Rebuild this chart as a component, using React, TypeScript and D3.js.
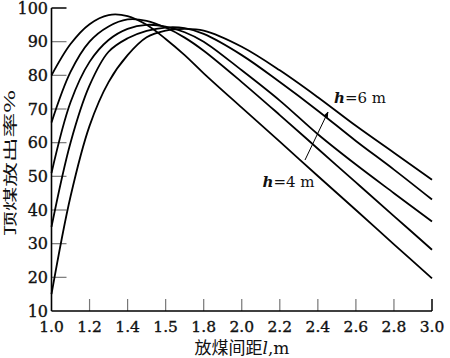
import React from "react";
import * as d3 from "d3";

const xValues = [1.0, 1.1, 1.2, 1.3, 1.4, 1.5, 1.6, 1.7, 1.8, 2.0, 2.2, 2.4, 2.6, 2.8, 3.0];
const seriesH4 = [80, 89.3, 95.2, 97.9, 97.6, 95.0, 90.8, 86.0, 80.6, 70.4, 60.3, 50.1, 40.0, 29.8, 19.7];
const seriesH45 = [66, 81, 90, 94.5, 96.6, 96.2, 94.2, 91.2, 87.3, 78, 68.2, 58.2, 48.2, 38.2, 28.2];
const seriesH5 = [51, 72, 84, 90.5, 93.8, 95.0, 94.5, 92.8, 90, 81.5, 72.5, 62.5, 53.5, 45, 36.6];
const seriesH55 = [35, 60, 77, 87, 91, 93.2, 94.2, 94, 92.3, 86, 78, 69.5, 60.5, 52, 43.1];
const seriesH6 = [15, 44, 65, 78, 86, 91.3, 93.3, 93.8, 93.3, 88.5, 81.5, 73.5, 65, 57, 49];
const allSeries = [seriesH4, seriesH45, seriesH5, seriesH55, seriesH6];

const xTickValues = [1.0, 1.2, 1.4, 1.6, 1.8, 2.0, 2.2, 2.4, 2.6, 2.8, 3.0];
const xTickLabels = ["1.0", "1.2", "1.4", "1.5", "1.8", "2.0", "2.2", "2.4", "2.6", "2.8", "3.0"];
const yTickValues = [10, 20, 30, 40, 50, 60, 70, 80, 90, 100];

const yTitle = "顶煤放出率%";
const xTitleMain = "放煤间距";
const labelTop = "=6 m";
const labelBottom = "=4 m";

export default function App() {
  const W = 450, H = 358;
  const x = d3.scaleLinear().domain([1.0, 3.0]).range([51.5, 432]);
  const y = d3.scaleLinear().domain([10, 100]).range([311, 8]);
  const line = d3
    .line<number>()
    .x((_, i) => x(xValues[i]))
    .y((d) => y(d))
    .curve(d3.curveCatmullRom.alpha(0.5));

  const numFont = "'DejaVu Serif', serif";
  return (
    <svg
      width={W}
      height={H}
      style={{ position: "absolute", left: 0, top: 0, background: "#fff" }}
    >
      <rect x={0} y={0} width={W} height={H} fill="#fff" />
      {/* y ticks */}
      {yTickValues.map((v) => (
        <g key={"yt" + v}>
          {v > 10 && (
            <line
              x1={x(1.0)}
              x2={x(1.0) + 15}
              y1={y(v)}
              y2={y(v)}
              stroke={v === 100 ? "#000" : "#777"}
              strokeWidth={v === 100 ? 1.5 : 1.2}
            />
          )}
          <text
            x={48}
            y={y(v)}
            dy="0.36em"
            textAnchor="end"
            fontFamily={numFont}
            fontSize={16}
            fill="#111"
            stroke="#111"
            strokeWidth={0.35}
          >
            {v}
          </text>
        </g>
      ))}
      {/* x ticks */}
      {xTickValues.map((v, i) => (
        <g key={"xt" + i}>
          {i > 0 && (
            <line
              x1={x(v)}
              x2={x(v)}
              y1={y(10)}
              y2={y(10) - 12}
              stroke={i === xTickValues.length - 1 ? "#000" : "#777"}
              strokeWidth={i === xTickValues.length - 1 ? 1.5 : 1.2}
            />
          )}
          <text
            x={x(v)}
            y={332}
            textAnchor="middle"
            fontFamily={numFont}
            fontSize={15.5}
            fill="#111"
            stroke="#111"
            strokeWidth={0.35}
          >
            {xTickLabels[i]}
          </text>
        </g>
      ))}
      {/* axes */}
      <line x1={x(1.0)} x2={x(1.0)} y1={y(100)} y2={y(10)} stroke="#000" strokeWidth={1.6} />
      <line x1={x(1.0)} x2={x(3.0)} y1={y(10)} y2={y(10)} stroke="#000" strokeWidth={1.6} />
      {/* curves */}
      {allSeries.map((s, i) => (
        <path key={"s" + i} d={line(s) || ""} fill="none" stroke="#000" strokeWidth={1.8} />
      ))}
      {/* arrow */}
      <defs>
        <marker id="ah" viewBox="0 0 10 10" refX="9" refY="5" markerWidth="6" markerHeight="6" orient="auto">
          <path d="M0,1 L10,5 L0,9 z" fill="#000" />
        </marker>
      </defs>
      <line x1={305} y1={160} x2={328} y2={112} stroke="#000" strokeWidth={1} markerEnd="url(#ah)" />
      {/* annotations */}
      <text x={334} y={103} fontFamily={numFont} fontSize={15} fill="#111">
        <tspan fontStyle="italic" fontWeight="bold">h</tspan>
        {labelTop}
      </text>
      <text x={262.5} y={187} fontFamily={numFont} fontSize={15} fill="#111">
        <tspan fontStyle="italic" fontWeight="bold">h</tspan>
        {labelBottom}
      </text>
      {/* axis titles */}
      <text
        transform={`translate(15,163) rotate(-90)`}
        textAnchor="middle"
        fontFamily="'Noto Sans CJK SC', serif"
        fontSize={14}
        textLength={146}
        lengthAdjust="spacingAndGlyphs"
        fill="#111"
      >
        {yTitle}
      </text>
      <text x={242} y={354} textAnchor="middle" fontFamily="'Noto Sans CJK SC', serif" fontSize={17} fill="#111">
        {xTitleMain}
        <tspan fontFamily="'DejaVu Serif', serif" fontStyle="italic">l</tspan>
        <tspan fontFamily="'DejaVu Serif', serif">,m</tspan>
      </text>
    </svg>
  );
}
